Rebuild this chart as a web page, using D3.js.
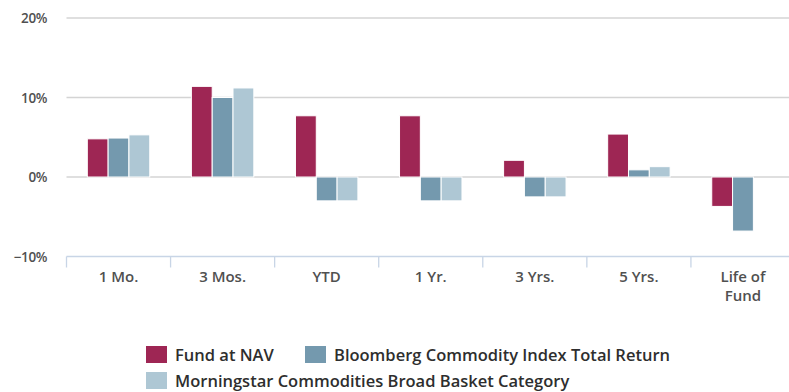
<!DOCTYPE html>
<html>
<head>
<meta charset="utf-8">
<script src="https://cdn.jsdelivr.net/npm/d3@7"></script>
<style>
  html, body { margin: 0; padding: 0; background: #fff; }
  svg { display: block; font-family: "Open Sans", "DejaVu Sans", sans-serif; }
</style>
</head>
<body>
<svg id="chart" width="789" height="392"></svg>
<script>
// Period labels along the x axis
const categories = ["1 Mo.", "3 Mos.", "YTD", "1 Yr.", "3 Yrs.", "5 Yrs.", "Life of Fund"];

// Returns in percent, one array per series (null = not reported)
const fundAtNav   = [4.8, 11.4, 7.7, 7.7, 2.1, 5.4, -3.7];
const bloomberg   = [4.9, 10.0, -3.0, -3.0, -2.5, 0.9, -6.8];
const morningstar = [5.3, 11.2, -3.0, -3.0, -2.5, 1.3, null];

const seriesNames = [
  "Fund at NAV",
  "Bloomberg Commodity Index Total Return",
  "Morningstar Commodities Broad Basket Category"
];
const seriesColors = ["#9e2654", "#7499ae", "#aec7d4"];

// Y-axis tick values (percent)
const yTicks = [-10, 0, 10, 20];

const series = [fundAtNav, bloomberg, morningstar].map((values, i) => ({
  name: seriesNames[i], color: seriesColors[i], values
}));

const svg = d3.select("#chart");
const plotLeft = 66.5, plotRight = 795, plotTop = 18, plotBottom = 256.5;

const x = d3.scaleBand().domain(categories).range([plotLeft, plotRight]).paddingInner(0).paddingOuter(0);
const y = d3.scaleLinear().domain([-10, 20]).range([plotBottom, plotTop]);

// Group padding of 20% of the category width on each side
const groupPad = x.bandwidth() * 0.2;
const barPitch = (x.bandwidth() - 2 * groupPad) / series.length;

// Horizontal grid lines
svg.append("g")
  .selectAll("line")
  .data(yTicks.filter(t => t !== -10))
  .join("line")
  .attr("x1", plotLeft).attr("x2", plotRight)
  .attr("y1", d => y(d)).attr("y2", d => y(d))
  .attr("stroke", "#d4d4d4").attr("stroke-width", 1.3);

// Y-axis labels
svg.append("g")
  .selectAll("text")
  .data(yTicks)
  .join("text")
  .attr("x", 47).attr("y", d => y(d) + 5)
  .attr("text-anchor", "end")
  .attr("fill", "#505050")
  .attr("font-size", 13.5)
  .attr("font-weight", 600)
  .attr("letter-spacing", -0.4)
  .text(d => (d < 0 ? "\u2212" + Math.abs(d) : d) + "%");

// Bars
const groups = svg.append("g")
  .selectAll("g")
  .data(series)
  .join("g")
  .attr("fill", d => d.color);

groups.selectAll("rect")
  .data((s, si) => s.values.map((v, ci) => ({ v, ci, si })).filter(d => d.v !== null))
  .join("rect")
  .attr("x", d => x(categories[d.ci]) + groupPad + d.si * barPitch)
  .attr("width", barPitch)
  .attr("y", d => y(Math.max(0, d.v)))
  .attr("height", d => Math.abs(y(d.v) - y(0)))
  .attr("stroke", "#fff")
  .attr("stroke-width", 1);

// X axis line and category boundary ticks
const xAxis = svg.append("g").attr("transform", `translate(0,${plotBottom})`);
xAxis.append("line")
  .attr("x1", plotLeft).attr("x2", plotRight)
  .attr("stroke", "#c8d5e6").attr("stroke-width", 1.3);
xAxis.selectAll("line.tick")
  .data(categories)
  .join("line")
  .attr("class", "tick")
  .attr("x1", d => x(d)).attr("x2", d => x(d))
  .attr("y1", 0).attr("y2", 11)
  .attr("stroke", "#c8d5e6").attr("stroke-width", 1.3);

// Category labels (long labels wrap onto two lines)
const labelLines = { "Life of Fund": ["Life of", "Fund"] };
const catLabels = svg.append("g")
  .selectAll("text")
  .data(categories)
  .join("text")
  .attr("x", d => x(d) + x.bandwidth() / 2)
  .attr("y", 282)
  .attr("text-anchor", "middle")
  .attr("fill", "#505050")
  .attr("font-size", 15)
  .attr("font-weight", 600);
catLabels.each(function (d) {
  const lines = labelLines[d] || [d];
  d3.select(this).selectAll("tspan")
    .data(lines)
    .join("tspan")
    .attr("x", x(d) + x.bandwidth() / 2)
    .attr("dy", (l, i) => (i === 0 ? 0 : 19))
    .text(l => l);
});

// Legend
const legendPos = [
  { sx: 146, sy: 346, tx: 175, ty: 361 },
  { sx: 305, sy: 346, tx: 334, ty: 361 },
  { sx: 146, sy: 372, tx: 175, ty: 387 }
];
const legend = svg.append("g")
  .selectAll("g")
  .data(series)
  .join("g");
legend.append("rect")
  .attr("x", (d, i) => legendPos[i].sx)
  .attr("y", (d, i) => legendPos[i].sy)
  .attr("width", 21).attr("height", 17)
  .attr("fill", d => d.color);
legend.append("text")
  .attr("x", (d, i) => legendPos[i].tx)
  .attr("y", (d, i) => legendPos[i].ty)
  .attr("fill", "#2e2e2e")
  .attr("font-size", 16.5)
  .attr("font-weight", 600)
  .text(d => d.name);
</script>
</body>
</html>
